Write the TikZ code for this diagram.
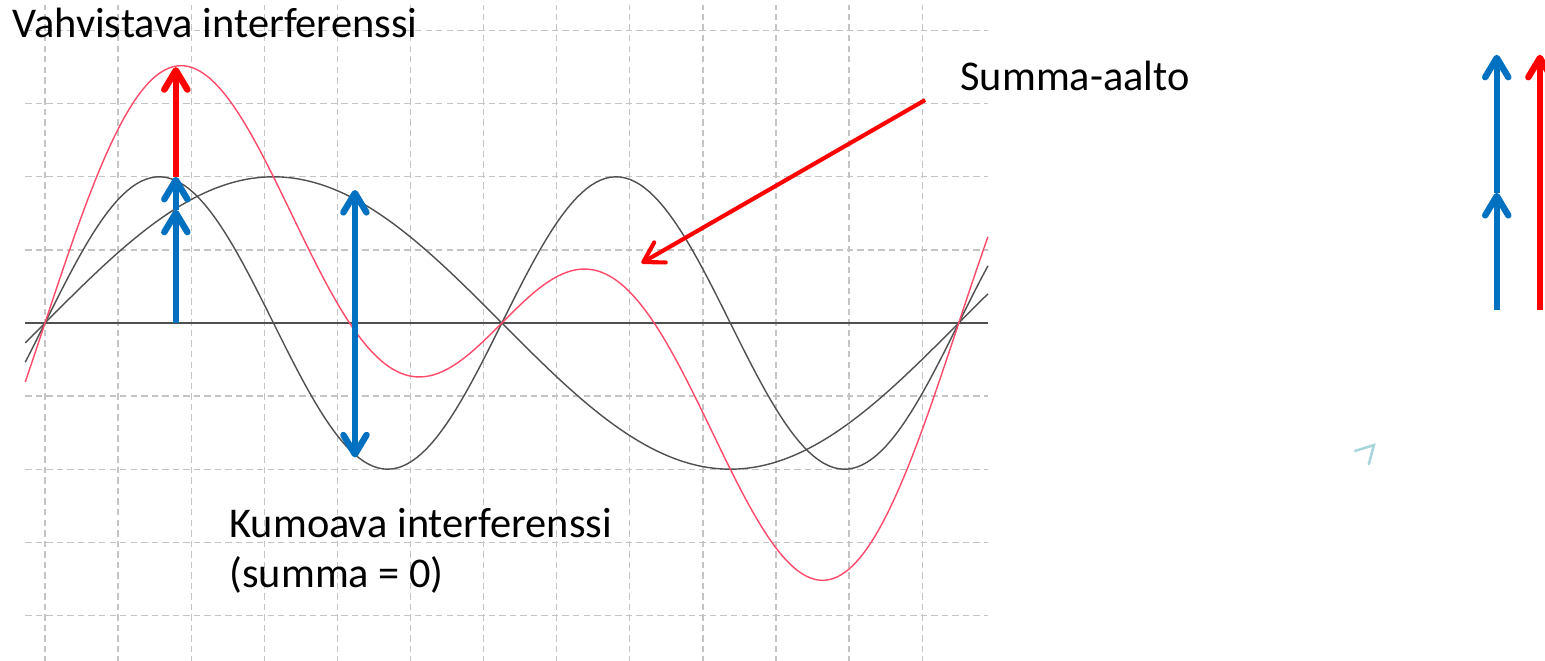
\documentclass[tikz,border=0pt]{standalone}
\usepackage{fontspec}
\setmainfont{Carlito}
\usepackage{tikz}
\usetikzlibrary{arrows.meta,positioning}
\definecolor{wblue}{HTML}{0070C0}
\definecolor{wred}{HTML}{FF0000}
\definecolor{wpink}{HTML}{FF4A6A}
\definecolor{wgrey}{HTML}{505050}
\definecolor{wgrid}{HTML}{C4C4C4}
\definecolor{wteal}{HTML}{A9D6DD}

\begin{document}
\begin{tikzpicture}[every node/.style={font=\fontsize{16.5}{19.5}\selectfont, inner sep=0pt},
  >={Straight Barb[length=7.5pt,width=9pt,round]},
  gridline/.style={wgrid, line width=0.5pt, dash pattern=on 2.5pt off 1.6pt},
  wave/.style={wgrey, line width=0.55pt},
  sumwave/.style={wpink, line width=0.55pt},
  vecb/.style={wblue, line width=2.5pt},
  vecr/.style={wred, line width=2.5pt}]
  \clip (-0.6156,-4.6238) rectangle (20.52,4.4186);

  \foreach \i in {0,...,12} \draw[gridline] (\i,-4.65) -- (\i,4.35);
  \foreach \j in {-4,-3,-2,-1,1,2,3,4} \draw[gridline] (-0.27,\j) -- (12.9,\j);
  \draw[wgrey, line width=0.6pt] (-0.27,0) -- (12.9,0);

  \draw[wave] plot[domain=-0.27:12.9, samples=200] (\x,{2*sin(28.8*\x)});
  \draw[wave] plot[domain=-0.27:12.9, samples=200] (\x,{2*sin(57.6*\x)});
  \draw[sumwave] plot[domain=-0.27:12.9, samples=250] (\x,{2*sin(28.8*\x)+2*sin(57.6*\x)});

  \node[anchor=base west] (title) at (-0.451,3.912) {Vahvistava interferenssi};
  \node[anchor=base west] (sumlbl) at (12.517,3.187) {Summa-aalto};
  \node[anchor=base west] (kum) at (2.517,-2.941) {Kumoava interferenssi};
  \node[anchor=base west] (kum0) at (2.517,-3.625) {(summa = 0)};

  \coordinate (p0) at (1.79,0);
  \coordinate (p1) at (1.79,1.55);
  \coordinate (p2) at (1.79,2);
  \coordinate (p3) at (1.79,3.5);
  \draw[vecb,->] (p0) -- (p1);
  \draw[vecb,->] (p1) -- (p2);
  \draw[vecr,->] (p2) -- (p3);

  \coordinate (d0) at (4.24,-1.84);
  \coordinate (d1) at (4.24,1.82);
  \draw[vecb,<->] (d0) -- (d1);

  \coordinate (s0) at (12.04,3.05);
  \coordinate (s1) at (8.16,0.82);
  \draw[wred, line width=1.6pt, ->] (s0) -- (s1);

  \coordinate (q0) at (19.86,0.18);
  \coordinate (q1) at (19.86,1.78);
  \coordinate (q2) at (19.86,3.67);
  \draw[vecb,->] (q0) -- (q1);
  \draw[vecb,->] (q1) -- (q2);
  \coordinate (r0) at (20.45,0.18);
  \coordinate (r1) at (20.45,3.67);
  \draw[vecr,->] (r0) -- (r1);

  \draw[wteal, line width=1pt, line cap=round] (17.92,-1.75) -- (18.18,-1.67) -- (18.11,-1.93);
\end{tikzpicture}
\end{document}
